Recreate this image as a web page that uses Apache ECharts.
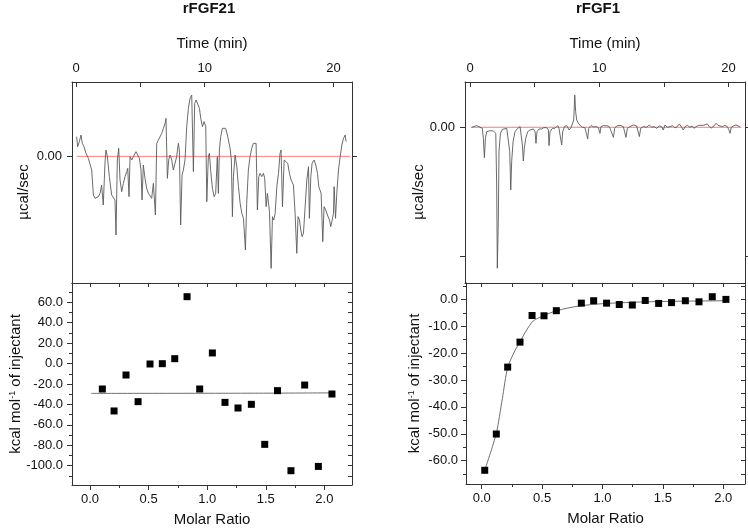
<!DOCTYPE html>
<html>
<head>
<meta charset="UTF-8">
<title>ITC rFGF21 / rFGF1</title>
<script src="https://cdn.jsdelivr.net/npm/echarts@6/dist/echarts.min.js"></script>
</head>
<body style="margin:0;background:#fff;">
<div id="main" style="width:748px;height:530px;"></div>
<script>
// raw heat traces, [time (min), power]
var traceFGF21 = [
  [0.05,0.059],[0.13,0.029],[0.26,0.044],[0.39,0.064],[0.49,0.039],[0.62,0.029],[0.78,0.009],[0.96,-0.006],
  [1.09,-0.004],[1.22,-0.041],[1.35,-0.116],[1.48,-0.126],[1.61,-0.131],[1.74,-0.121],[1.87,-0.111],[1.99,-0.086],
  [2.12,-0.146],[2.25,-0.021],[2.33,0.019],[2.44,-0.001],[2.59,-0.061],[2.77,-0.116],[2.90,-0.121],[3.03,-0.131],
  [3.11,-0.236],[3.21,-0.011],[3.32,0.024],[3.42,-0.071],[3.55,-0.106],[3.68,-0.081],[3.81,-0.061],[3.94,-0.046],
  [4.02,-0.036],[4.12,-0.121],[4.20,-0.001],[4.33,-0.011],[4.46,-0.001],[4.66,0.014],[4.77,0.019],[4.92,-0.006],
  [5.05,-0.041],[5.13,-0.131],[5.23,-0.026],[5.36,-0.066],[5.49,-0.096],[5.62,-0.111],[5.75,-0.116],[5.88,-0.126],
  [6.01,-0.081],[6.09,-0.076],[6.17,-0.176],[6.27,0.039],[6.40,0.049],[6.53,0.044],[6.66,0.069],[6.79,0.084],
  [6.92,0.099],[6.99,0.114],[7.10,-0.066],[7.20,-0.011],[7.31,0.004],[7.44,-0.011],[7.56,-0.041],[7.69,-0.046],
  [7.82,-0.001],[7.95,0.039],[8.03,0.019],[8.13,-0.206],[8.24,-0.056],[8.34,-0.041],[8.47,-0.011],[8.60,0.089],
  [8.73,0.144],[8.86,0.174],[8.99,0.184],[9.12,-0.046],[9.22,0.159],[9.33,0.169],[9.46,0.164],[9.59,0.144],
  [9.69,0.114],[9.82,0.089],[9.95,0.104],[10.08,0.089],[10.16,-0.136],[10.28,-0.001],[10.36,0.009],[10.47,-0.046],
  [10.60,-0.096],[10.73,-0.121],[10.85,-0.111],[10.98,-0.001],[11.06,-0.111],[11.14,0.019],[11.24,0.059],[11.37,0.084],
  [11.50,0.089],[11.63,0.084],[11.76,0.064],[11.97,0.024],[12.07,-0.011],[12.15,-0.181],[12.23,-0.061],[12.36,0.004],
  [12.49,-0.031],[12.62,-0.091],[12.75,-0.141],[12.88,-0.171],[13.01,-0.186],[13.16,-0.281],[13.26,-0.141],[13.39,-0.041],
  [13.52,-0.001],[13.65,0.024],[13.78,0.039],[13.91,0.044],[13.99,0.039],[14.09,-0.161],[14.20,-0.061],[14.30,-0.051],
  [14.43,-0.061],[14.56,-0.051],[14.66,-0.066],[14.77,-0.151],[14.87,-0.111],[15.03,-0.166],[15.16,-0.336],[15.26,-0.181],
  [15.36,-0.191],[15.47,-0.171],[15.60,-0.091],[15.73,-0.051],[15.85,0.009],[15.93,0.019],[16.04,-0.151],[16.17,-0.011],
  [16.32,-0.006],[16.45,-0.021],[16.58,-0.051],[16.71,-0.071],[16.81,-0.066],[16.89,-0.086],[17.02,-0.171],[17.15,-0.291],
  [17.25,-0.181],[17.36,-0.191],[17.46,-0.221],[17.56,-0.241],[17.67,-0.231],[17.80,-0.151],[17.93,-0.071],[18.06,-0.031],
  [18.13,-0.186],[18.24,-0.061],[18.34,-0.021],[18.50,-0.011],[18.63,-0.026],[18.76,-0.051],[18.86,-0.091],[19.04,-0.111],
  [19.17,-0.256],[19.27,-0.151],[19.40,-0.161],[19.53,-0.176],[19.69,-0.191],[19.79,-0.211],[19.90,-0.191],[20.00,-0.171],
  [20.05,-0.091],[20.16,-0.186],[20.26,-0.111],[20.39,-0.041],[20.52,-0.001],[20.65,0.034],[20.78,0.054],[20.91,0.064],
  [20.98,0.044]
];
var traceFGF1 = [
  [0.13,0.000],[0.26,0.005],[0.52,0.013],[0.77,0.000],[0.95,-0.008],[1.03,-0.085],[1.11,-0.235],[1.19,-0.085],
  [1.29,-0.034],[1.55,-0.026],[1.80,-0.029],[1.99,-0.047],[2.06,-0.446],[2.11,-1.090],[2.19,-0.703],[2.24,-0.188],
  [2.35,-0.047],[2.50,-0.016],[2.84,-0.008],[2.99,-0.021],[3.07,-0.188],[3.15,-0.485],[3.22,-0.266],[3.33,-0.111],
  [3.48,-0.034],[3.69,-0.008],[3.87,0.005],[4.00,-0.003],[4.05,-0.137],[4.12,-0.261],[4.20,-0.163],[4.31,-0.085],
  [4.46,-0.034],[4.64,-0.021],[4.90,-0.013],[5.03,-0.034],[5.10,-0.124],[5.18,-0.034],[5.34,-0.013],[5.54,-0.013],
  [5.70,-0.003],[5.80,0.007],[5.93,-0.003],[6.06,-0.021],[6.11,-0.142],[6.19,-0.034],[6.37,-0.008],[6.57,-0.008],
  [6.78,0.013],[6.88,-0.008],[7.01,-0.021],[7.09,-0.137],[7.17,-0.034],[7.30,0.005],[7.48,0.013],[7.66,-0.021],
  [7.81,-0.003],[7.91,0.005],[8.02,0.056],[8.10,0.250],[8.17,0.121],[8.25,0.056],[8.38,0.031],[8.53,0.013],
  [8.69,0.000],[8.89,-0.003],[9.02,-0.008],[9.10,-0.090],[9.18,-0.008],[9.36,0.013],[9.56,0.003],[9.77,0.005],
  [9.93,-0.003],[10.05,-0.047],[10.13,0.005],[10.31,0.013],[10.44,0.026],[10.70,0.010],[10.83,-0.008],[10.96,0.005],
  [11.09,-0.078],[11.19,-0.008],[11.34,0.010],[11.60,0.015],[11.86,0.005],[11.99,-0.008],[12.06,-0.078],[12.17,-0.008],
  [12.37,0.005],[12.63,0.018],[12.89,0.010],[13.02,0.000],[13.10,-0.072],[13.20,-0.008],[13.41,0.005],[13.66,0.000],
  [13.87,0.018],[14.05,0.000],[14.23,0.005],[14.44,-0.008],[14.64,0.010],[14.82,0.005],[14.95,-0.021],[15.08,0.018],
  [15.26,0.000],[15.47,0.005],[15.67,0.013],[15.85,-0.005],[16.03,0.005],[16.19,0.026],[16.37,0.000],[16.50,-0.021],
  [16.63,0.005],[16.81,0.015],[17.01,0.000],[17.17,0.010],[17.32,-0.008],[17.48,0.005],[17.69,0.015],[17.84,0.000],
  [18.05,0.015],[18.20,0.005],[18.36,0.026],[18.51,0.005],[18.69,-0.005],[18.87,0.010],[19.03,0.031],[19.18,0.015],
  [19.33,0.000],[19.54,0.005],[19.72,0.015],[19.90,0.005],[20.01,-0.016],[20.11,-0.047],[20.21,0.000],[20.37,0.010],
  [20.57,0.018],[20.75,0.010],[20.88,0.005]
];
var baseFGF21 = [[0.05, 0], [21.3, 0]];
var baseFGF1 = [[0.05, 0], [21.0, 0]];

// integrated heats
var ratioFGF21 = [0.105, 0.205, 0.307, 0.41, 0.512, 0.617, 0.723, 0.828, 0.936, 1.044, 1.152, 1.263, 1.377, 1.491, 1.60, 1.715, 1.832, 1.949, 2.065];
var heatFGF21 = [-24.9, -46.4, -11.2, -37.3, -0.4, -0.1, 4.8, 65.5, -24.9, 10.4, -38.0, -43.5, -39.9, -79.1, -26.5, -104.9, -21.0, -100.7, -29.8];
var fitFGF21 = [[0.01, -29.2], [1.45, -29.0], [2.05, -28.7]];

var ratioFGF1 = [0.025, 0.121, 0.215, 0.317, 0.417, 0.516, 0.618, 0.825, 0.927, 1.034, 1.139, 1.247, 1.354, 1.465, 1.572, 1.686, 1.799, 1.909, 2.022];
var heatFGF1 = [-63.6, -50.1, -25.2, -15.9, -6.0, -6.1, -4.2, -1.4, -0.5, -1.4, -1.9, -2.1, -0.4, -1.5, -1.2, -0.5, -0.9, 1.0, 0.0];
var fitFGF1 = [[0.025, -63.6], [0.12, -50.0], [0.171, -36.9], [0.215, -25.3], [0.276, -19.0], [0.317, -15.8], [0.372, -11.4],
  [0.427, -8.0], [0.51, -6.1], [0.62, -4.2], [0.8, -2.5], [1.0, -1.6], [1.3, -1.0], [1.6, -0.7], [2.0, -0.5], [2.04, -0.4]];

// ticks
var timeLabels = [0, 10, 20];
var timeTicks = [0, 5, 10, 15, 20];
var ratioLabels = [0, 0.5, 1, 1.5, 2];
var ratioMinor = [0.25, 0.75, 1.25, 1.75];
var ratioAll = [0, 0.25, 0.5, 0.75, 1, 1.25, 1.5, 1.75, 2];
var heatLabelsL = [-100, -80, -60, -40, -20, 0, 20, 40, 60];
var heatMinorL = [-110, -90, -70, -50, -30, -10, 10, 30, 50, 70];
var heatLabelsR = [-60, -50, -40, -30, -20, -10, 0];
var heatMinorR = [-65, -55, -45, -35, -25, -15, -5, 5];

var FONT = '"Liberation Sans", Arial, sans-serif';
var INK = '#111';
var LINE = '#333';

var xAxes = [], yAxes = [];
function axis(list, o) {
  list.push({
    type: 'value', gridIndex: o.grid, position: o.pos, min: o.min, max: o.max,
    axisLine: { show: o.line !== false, onZero: false, lineStyle: { color: LINE, width: 1 } },
    axisTick: o.ticks ? { show: true, inside: !!o.inside, length: o.len || 5, customValues: o.ticks, lineStyle: { color: LINE } } : { show: false },
    axisLabel: o.labels ? { show: true, customValues: o.labels, formatter: o.fmt, margin: o.margin, color: INK, fontSize: 13, fontFamily: FONT } : { show: false },
    splitLine: { show: false },
    name: o.name || '', nameLocation: 'middle', nameGap: o.gap || 0, nameRotate: o.rot || 0,
    nameMoveOverlap: false,
    nameTextStyle: {
      color: INK, fontSize: 15, fontFamily: FONT, padding: o.pad || 0,
      rich: { s: { fontSize: 9, verticalAlign: 'top', color: INK, fontFamily: FONT } }
    }
  });
  return list.length - 1;
}
function fix1(v) { return v.toFixed(1); }
function fix2(v) { return v.toFixed(2); }

var grids = [
  { left: 72, top: 82, width: 280, height: 201 },
  { left: 72, top: 283, width: 280, height: 202 },
  { left: 465, top: 82, width: 280, height: 201 },
  { left: 466, top: 283, width: 279, height: 201 }
];
grids.forEach(function (g) { g.containLabel = false; g.outerBoundsMode = 'none'; });

var series = [];

// raw trace panel
function tracePanel(g, xmin, xmax, ymin, ymax, yTicks, yGap, trace, base) {
  var xi = axis(xAxes, { grid: g, pos: 'top', min: xmin, max: xmax, ticks: timeTicks, inside: true, len: 5,
    labels: timeLabels, margin: 7, name: 'Time (min)', gap: 31 });
  axis(xAxes, { grid: g, pos: 'bottom', min: xmin, max: xmax });
  var yi = axis(yAxes, { grid: g, pos: 'left', min: ymin, max: ymax, ticks: yTicks, len: 5,
    labels: [0], fmt: fix2, margin: 10, name: 'µcal/sec', gap: yGap, rot: 90, pad: [0, 19, 0, 0] });
  axis(yAxes, { grid: g, pos: 'right', min: ymin, max: ymax, ticks: yTicks, len: 5 });
  series.push({ type: 'line', xAxisIndex: xi, yAxisIndex: yi, data: base, showSymbol: false, silent: true,
    lineStyle: { color: '#ff7b7b', width: 1 }, z: 2 });
  series.push({ type: 'line', xAxisIndex: xi, yAxisIndex: yi, data: trace, showSymbol: false,
    lineStyle: { color: '#5a5a5a', width: 0.9 }, z: 3 });
}

// integrated heat panel
function heatPanel(g, xmin, xmax, ymin, ymax, yLab, yMin, yGap, lmargin, xs, ys, fit) {
  var xi = axis(xAxes, { grid: g, pos: 'bottom', min: xmin, max: xmax, ticks: ratioLabels, len: 5,
    labels: ratioLabels, fmt: fix1, margin: 8, name: 'Molar Ratio', gap: 27 });
  axis(xAxes, { grid: g, pos: 'bottom', min: xmin, max: xmax, ticks: ratioMinor, len: 3, line: false });
  axis(xAxes, { grid: g, pos: 'top', min: xmin, max: xmax, ticks: ratioAll, inside: true, len: 4 });
  var yi = axis(yAxes, { grid: g, pos: 'left', min: ymin, max: ymax, ticks: yLab, len: 5,
    labels: yLab, fmt: fix1, margin: lmargin, name: 'kcal mol{s|-1} of injectant', gap: yGap, rot: 90 });
  axis(yAxes, { grid: g, pos: 'left', min: ymin, max: ymax, ticks: yMin, len: 3, line: false });
  axis(yAxes, { grid: g, pos: 'right', min: ymin, max: ymax, ticks: yLab.concat(yMin), inside: true, len: 4 });
  series.push({ type: 'line', xAxisIndex: xi, yAxisIndex: yi, data: fit, showSymbol: false, smooth: 0.25,
    lineStyle: { color: '#6e6e6e', width: 1 }, z: 2 });
  series.push({ type: 'scatter', xAxisIndex: xi, yAxisIndex: yi, symbol: 'rect', symbolSize: 7,
    itemStyle: { color: '#000', opacity: 1 }, data: xs.map(function (x, i) { return [x, ys[i]]; }), z: 3 });
}

tracePanel(0, -0.31, 21.44, -0.38, 0.223, [0], 41, traceFGF21, baseFGF21);
heatPanel(1, -0.154, 2.236, -118.9, 78.9, heatLabelsL, heatMinorL, 49, 9, ratioFGF21, heatFGF21, fitFGF21);
tracePanel(2, -0.39, 21.27, -1.204, 0.35, [0, -1], 39, traceFGF1, baseFGF1);
heatPanel(3, -0.13, 2.18, -68.7, 6.1, heatLabelsR, heatMinorR, 44, 8, ratioFGF1, heatFGF1, fitFGF1);

var chart = echarts.init(document.getElementById('main'), null, { renderer: 'canvas' });
chart.setOption({
  backgroundColor: '#fff',
  animation: false,
  grid: grids,
  xAxis: xAxes,
  yAxis: yAxes,
  series: series,
  graphic: [
    { type: 'text', x: 209, y: 9, style: { text: 'rFGF21', align: 'center', verticalAlign: 'middle',
      fontSize: 15, fontWeight: 'bold', fontFamily: FONT, fill: INK } },
    { type: 'text', x: 598, y: 9, style: { text: 'rFGF1', align: 'center', verticalAlign: 'middle',
      fontSize: 15, fontWeight: 'bold', fontFamily: FONT, fill: INK } }
  ]
});
</script>
</body>
</html>
